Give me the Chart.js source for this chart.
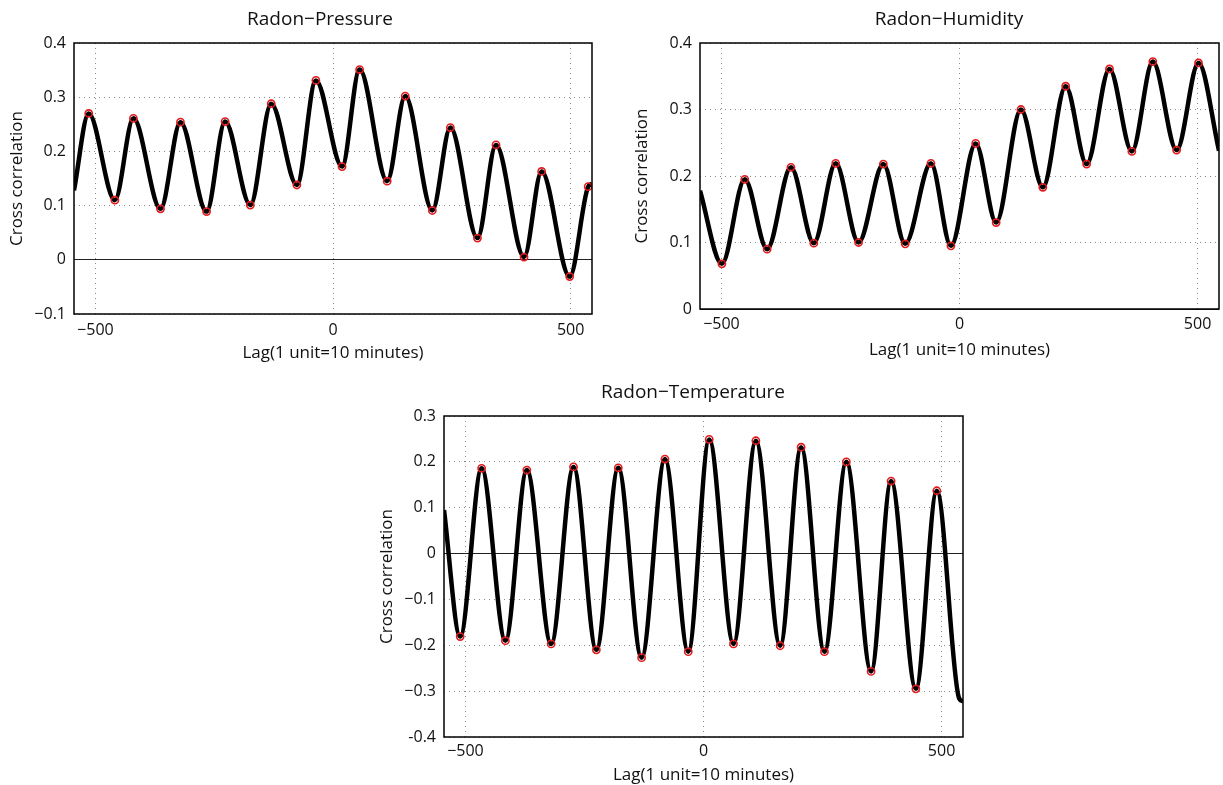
<!DOCTYPE html>
<html>
<head>
<meta charset="utf-8">
<script src="https://cdn.jsdelivr.net/npm/chart.js@4.4.1/dist/chart.umd.min.js"></script>
<style>
  html, body { margin: 0; padding: 0; background: #fff; overflow: hidden; width: 1223px; height: 785px; }
  canvas { position: absolute; }
</style>
</head>
<body>
<canvas id="pressure" style="left:0px;top:0px" width="640" height="364"></canvas>
<canvas id="humidity" style="left:625px;top:0px" width="648" height="361"></canvas>
<canvas id="temperature" style="left:370px;top:370px" width="646" height="415"></canvas>
<script>
// lag in units of 10 minutes, read at the marked peaks / troughs
const pressureLag = [-514, -459, -420, -363, -321, -266, -227, -174, -130, -76, -36, 19, 56, 114, 152, 209, 247, 304, 343, 402, 439, 498, 537]
const pressureCorr = [0.270, 0.110, 0.261, 0.094, 0.254, 0.089, 0.255, 0.101, 0.288, 0.138, 0.331, 0.172, 0.351, 0.145, 0.302, 0.091, 0.244, 0.040, 0.212, 0.005, 0.163, -0.031, 0.135]
const pressureEdgeLag = [-545, 545]
const pressureEdgeCorr = [0.128, 0.140]

const humidityLag = [-499, -451, -404, -354, -306, -260, -212, -160, -114, -60, -18, 34, 77, 129, 175, 223, 267, 315, 362, 406, 456, 502]
const humidityCorr = [0.068, 0.195, 0.090, 0.213, 0.099, 0.219, 0.100, 0.218, 0.098, 0.219, 0.095, 0.249, 0.130, 0.300, 0.183, 0.335, 0.218, 0.361, 0.237, 0.372, 0.239, 0.370]
const humidityEdgeLag = [-545, 545]
const humidityEdgeCorr = [0.178, 0.238]

const temperatureLag = [-511, -466, -416, -371, -320, -273, -225, -179, -130, -81, -32, 12, 63, 110, 161, 205, 254, 300, 352, 394, 446, 490]
const temperatureCorr = [-0.181, 0.186, -0.190, 0.182, -0.197, 0.189, -0.210, 0.187, -0.227, 0.206, -0.214, 0.249, -0.197, 0.246, -0.201, 0.232, -0.214, 0.200, -0.257, 0.158, -0.295, 0.137]
// the curve bottoms out just before the right edge
const temperatureEdgeLag = [-545, 537, 545]
const temperatureEdgeCorr = [0.095, -0.316, -0.322]

const lagTicks = [-500, 0, 500]
const lagTickLabels = ['\u2212500', '0', '500']
const pressureTicks = [-0.1, 0, 0.1, 0.2, 0.3, 0.4]
const pressureTickLabels = ['\u22120.1', '0', '0.1', '0.2', '0.3', '0.4']
const humidityTicks = [0, 0.1, 0.2, 0.3, 0.4]
const humidityTickLabels = ['0', '0.1', '0.2', '0.3', '0.4']
const temperatureTicks = [-0.4, -0.3, -0.2, -0.1, 0, 0.1, 0.2, 0.3]
const temperatureTickLabels = ['-0.4', '\u22120.3', '\u22120.2', '\u22120.1', '0', '0.1', '0.2', '0.3']

Chart.defaults.font.family = "'Open Sans', sans-serif"
Chart.defaults.color = '#111'

// matlab style box round the axes
const frame = {
  id: 'frame',
  afterDraw (chart) {
    const { ctx, chartArea: a } = chart
    ctx.save()
    ctx.strokeStyle = '#000'
    ctx.lineWidth = 1.5
    ctx.strokeRect(a.left, a.top, a.right - a.left, a.bottom - a.top)
    ctx.restore()
  }
}

function build (id, o) {
  const curve = [{ x: o.edgeLag[0], y: o.edgeCorr[0] }]
  o.lag.forEach((l, i) => curve.push({ x: l, y: o.corr[i] }))
  for (let i = 1; i < o.edgeLag.length; i++) {
    curve.push({ x: o.edgeLag[i], y: o.edgeCorr[i] })
  }
  const marks = o.lag.map((l, i) => ({ x: l, y: o.corr[i] }))

  return new Chart(document.getElementById(id).getContext('2d'), {
    type: 'line',
    data: {
      datasets: [
        { data: marks, showLine: false, pointRadius: 3.6, pointBorderWidth: 1.6, pointBorderColor: '#e3191c', pointBackgroundColor: 'rgba(0,0,0,0)', order: 0 },
        { data: curve, borderColor: '#000', borderWidth: 4.5, pointRadius: 0, cubicInterpolationMode: 'monotone', fill: false, order: 1 }
      ]
    },
    options: {
      responsive: false,
      animation: false,
      events: [],
      devicePixelRatio: 1,
      layout: { padding: 0 },
      scales: {
        x: {
          type: 'linear',
          min: -545,
          max: 545,
          afterBuildTicks: (s) => { s.ticks = lagTicks.map(v => ({ value: v })) },
          afterFit: (s) => { s.height = o.xHeight },
          ticks: { callback: (v, i) => lagTickLabels[i], font: { size: 16 }, padding: o.xTickPad, maxRotation: 0, autoSkip: false },
          grid: { color: '#8a8a8a', lineWidth: 1, drawTicks: false },
          border: { display: false, dash: [1, 4] },
          title: { display: true, text: 'Lag(1 unit=10 minutes)', font: { size: 17 }, padding: { top: 0, bottom: o.xTitlePad } }
        },
        y: {
          type: 'linear',
          min: o.ticks[0],
          max: o.ticks[o.ticks.length - 1],
          afterBuildTicks: (s) => { s.ticks = o.ticks.map(v => ({ value: v })) },
          afterFit: (s) => { s.width = o.yWidth },
          ticks: { callback: (v, i) => o.tickLabels[i], font: { size: 16 }, padding: 8, autoSkip: false },
          grid: {
            drawTicks: false,
            lineWidth: 1,
            color: (ctx) => (ctx.tick && ctx.tick.value === 0) ? '#222' : '#8a8a8a'
          },
          border: {
            display: false,
            dash: (ctx) => (ctx.tick && ctx.tick.value === 0) ? [] : [1, 4]
          },
          title: { display: true, text: 'Cross correlation', font: { size: 17 }, padding: { top: 7, bottom: 0 } }
        },
        // empty right axis, only keeps room so the title sits where it should
        yRight: {
          position: 'right',
          ticks: { display: false },
          grid: { display: false },
          border: { display: false },
          afterFit: (s) => { s.width = o.rightWidth }
        }
      },
      plugins: {
        legend: { display: false },
        tooltip: { enabled: false },
        title: {
          display: true,
          text: o.title,
          color: '#111',
          font: { size: 19, weight: 'normal' },
          padding: { top: o.titleTop, bottom: o.titleBottom }
        }
      }
    },
    plugins: [frame]
  })
}

build('pressure', {
  title: 'Radon\u2212Pressure',
  lag: pressureLag, corr: pressureCorr, edgeLag: pressureEdgeLag, edgeCorr: pressureEdgeCorr,
  ticks: pressureTicks, tickLabels: pressureTickLabels,
  yWidth: 74, rightWidth: 48, xHeight: 50, xTickPad: 7, xTitlePad: 1, titleTop: 8.6, titleBottom: 11.6
})

build('humidity', {
  title: 'Radon\u2212Humidity',
  lag: humidityLag, corr: humidityCorr, edgeLag: humidityEdgeLag, edgeCorr: humidityEdgeCorr,
  ticks: humidityTicks, tickLabels: humidityTickLabels,
  yWidth: 75, rightWidth: 54, xHeight: 52, xTickPad: 6, xTitlePad: 0.5, titleTop: 8.6, titleBottom: 11.6
})

build('temperature', {
  title: 'Radon\u2212Temperature',
  lag: temperatureLag, corr: temperatureCorr, edgeLag: temperatureEdgeLag, edgeCorr: temperatureEdgeCorr,
  ticks: temperatureTicks, tickLabels: temperatureTickLabels,
  yWidth: 74, rightWidth: 53, xHeight: 48, xTickPad: 5, xTitlePad: 0, titleTop: 11.6, titleBottom: 11.6
})
</script>
</body>
</html>
